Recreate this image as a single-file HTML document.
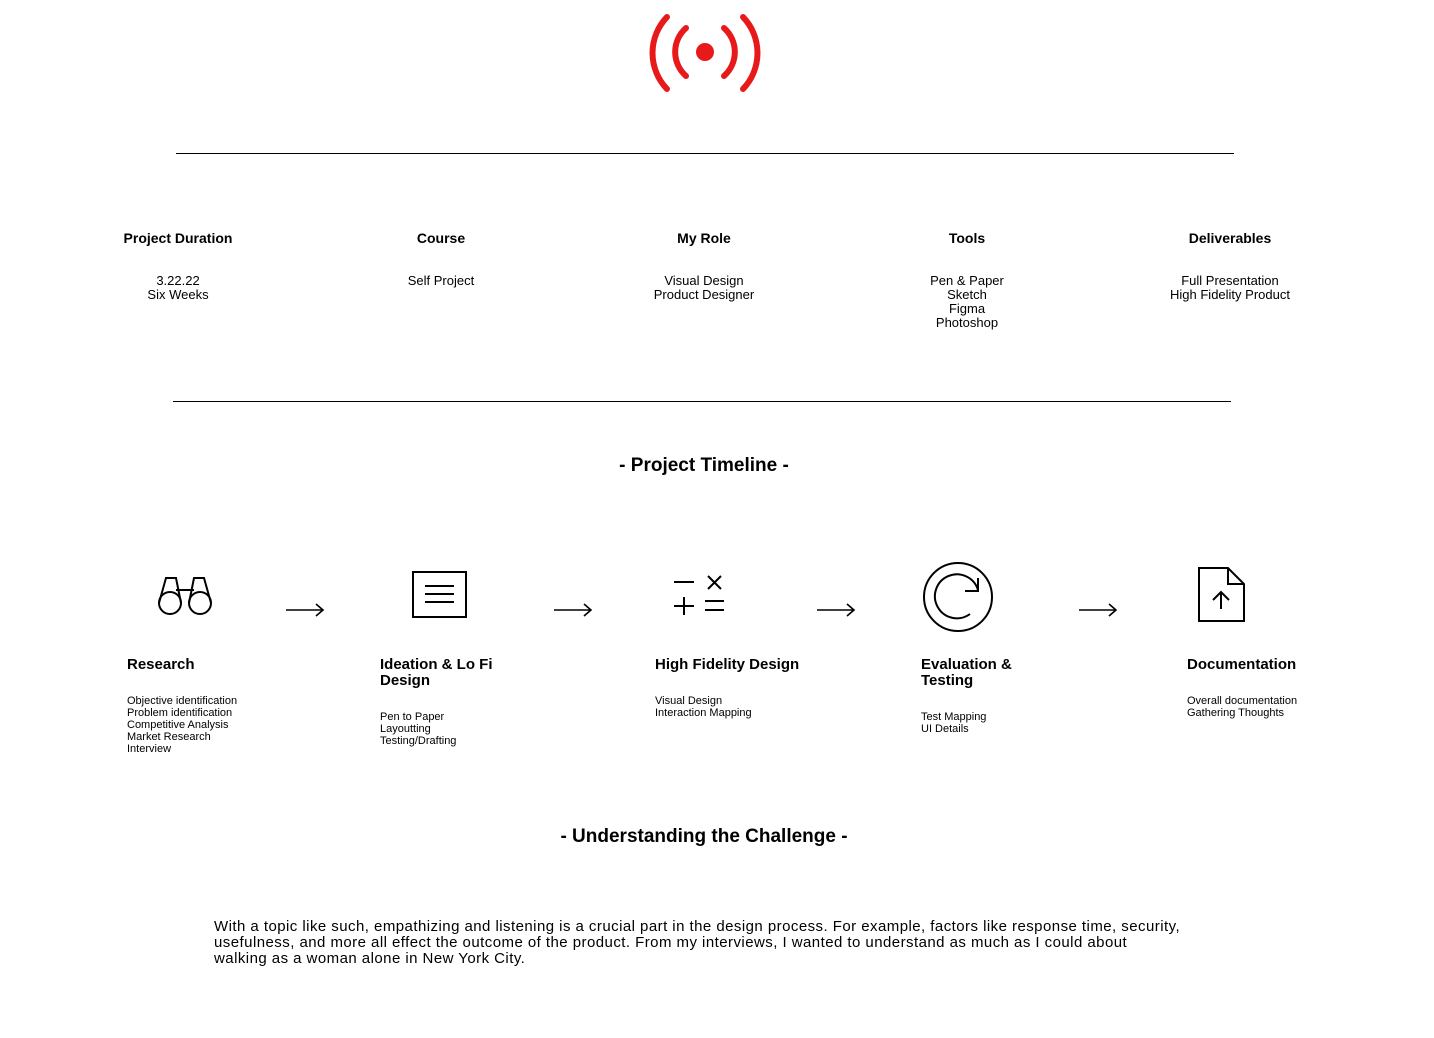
<!DOCTYPE html>
<html><head><meta charset="utf-8"><style>
body{margin:0;width:1434px;height:1038px;background:#fff;position:relative;font-family:"Liberation Sans",sans-serif;color:#000;overflow:hidden}
.a{position:absolute}
.h{font-weight:bold;font-size:14px}
.c{text-align:center;width:240px;margin-left:-120px}
.v{font-size:13px;line-height:14px}
.t{font-weight:bold;font-size:15px;line-height:16px}
.d{font-size:11px;line-height:12px}
.sec{font-weight:bold;font-size:19px;width:600px;left:404px;text-align:center}
</style></head><body>
<svg class="a" style="left:640px;top:5px" width="130" height="95" viewBox="640 5 130 95">
<circle cx="705" cy="52" r="9" fill="#e8191b"/>
<path d="M686 28 A32 32 0 0 0 686 76 M724 28 A32 32 0 0 1 724 76" stroke="#e8191b" stroke-width="6" fill="none" stroke-linecap="round"/>
<path d="M667 17 A52 52 0 0 0 667 89 M743 17 A52 52 0 0 1 743 89" stroke="#e8191b" stroke-width="6" fill="none" stroke-linecap="round"/>
</svg>
<div class="a" style="left:176px;top:153px;width:1058px;height:1px;background:#000"></div>
<div class="a" style="left:173px;top:401px;width:1058px;height:1px;background:#000"></div>

<div class="a c" style="left:178px;top:230px"><div class="h">Project Duration</div><div class="v" style="margin-top:28px">3.22.22<br>Six Weeks</div></div>
<div class="a c" style="left:441px;top:230px"><div class="h">Course</div><div class="v" style="margin-top:28px">Self Project</div></div>
<div class="a c" style="left:704px;top:230px"><div class="h">My Role</div><div class="v" style="margin-top:28px">Visual Design<br>Product Designer</div></div>
<div class="a c" style="left:967px;top:230px"><div class="h">Tools</div><div class="v" style="margin-top:28px">Pen &amp; Paper<br>Sketch<br>Figma<br>Photoshop</div></div>
<div class="a c" style="left:1230px;top:230px"><div class="h">Deliverables</div><div class="v" style="margin-top:28px">Full Presentation<br>High Fidelity Product</div></div>

<div class="a sec" style="top:455px">- Project Timeline -</div>

<svg class="a" style="left:0;top:0" width="1434" height="700" fill="none" stroke="#000" stroke-width="2">
<g><circle cx="170" cy="603" r="11"/><circle cx="200" cy="603" r="11"/><path d="M159 603 L166 578 L176 578 L181 603 M211 603 L204 578 L194 578 L189 603 M176 590 L194 590"/></g>
<g><rect x="413" y="572" width="53" height="45"/><path d="M425 586 H454 M425 594 H454 M425 602 H454"/></g>
<g><path d="M674 582 H694 M708 576 L721 589 M721 576 L708 589 M674 606 H694 M684 597 V615 M705 601 H724 M705 610 H724"/></g>
<g><circle cx="958" cy="597" r="34"/><path d="M978 590 A22 22 0 1 0 970 614 M978 578 V591 H965"/></g>
<g><path d="M1199 568 H1228 L1244 584 V621 H1199 Z M1228 568 V584 H1244 M1221 609 V592 M1213 600 L1221 592 L1229 600"/></g>
<g stroke-width="1.6"><path d="M286 610 H322 M316 604 L323 610 L316 616"/><path d="M554 610 H590 M584 604 L591 610 L584 616"/><path d="M817 610 H853 M847 604 L854 610 L847 616"/><path d="M1079 610 H1115 M1109 604 L1116 610 L1109 616"/></g>
</svg>

<div class="a" style="left:127px;top:657px"><div class="t">Research</div><div class="d" style="margin-top:22px">Objective identification<br>Problem identification<br>Competitive Analysis<br>Market Research<br>Interview</div></div>
<div class="a" style="left:380px;top:657px"><div class="t">Ideation &amp; Lo Fi<br>Design</div><div class="d" style="margin-top:22px">Pen to Paper<br>Layoutting<br>Testing/Drafting</div></div>
<div class="a" style="left:655px;top:657px"><div class="t">High Fidelity Design</div><div class="d" style="margin-top:22px">Visual Design<br>Interaction Mapping</div></div>
<div class="a" style="left:921px;top:657px"><div class="t">Evaluation &amp;<br>Testing</div><div class="d" style="margin-top:22px">Test Mapping<br>UI Details</div></div>
<div class="a" style="left:1187px;top:657px"><div class="t">Documentation</div><div class="d" style="margin-top:22px">Overall documentation<br>Gathering Thoughts</div></div>

<div class="a sec" style="top:826px">- Understanding the Challenge -</div>
<div class="a" style="left:214px;top:919px;width:1050px;font-size:15px;line-height:16px;letter-spacing:0.45px;white-space:nowrap">With a topic like such, empathizing and listening is a crucial part in the design process. For example, factors like response time, security,<br>usefulness, and more all effect the outcome of the product. From my interviews, I wanted to understand as much as I could about<br>walking as a woman alone in New York City.</div>
</body></html>
